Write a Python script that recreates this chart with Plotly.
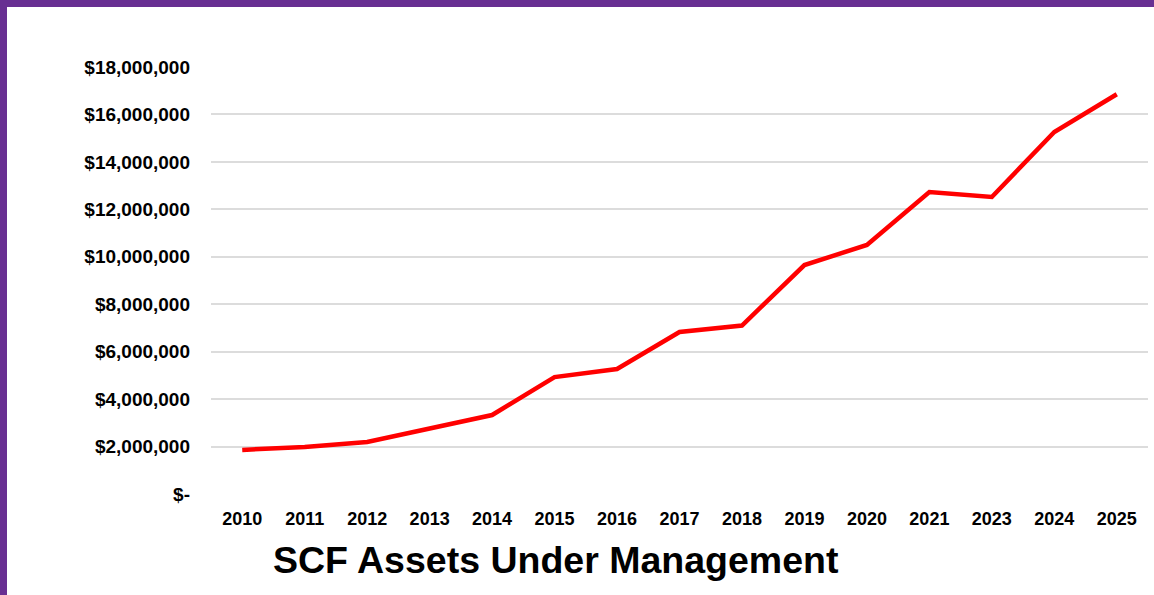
import plotly.graph_objects as go

years = ["2010", "2011", "2012", "2013", "2014", "2015", "2016", "2017",
         "2018", "2019", "2020", "2021", "2023", "2024", "2025"]
assets = [1.86e6, 1.98e6, 2.19e6, 2.78e6, 3.33e6, 4.93e6, 5.27e6, 6.83e6,
          7.10e6, 9.65e6, 10.50e6, 12.73e6, 12.52e6, 15.26e6, 16.85e6]
y_tickvals = [0, 2e6, 4e6, 6e6, 8e6, 10e6, 12e6, 14e6, 16e6, 18e6]
y_ticktext = ["$-", "$2,000,000", "$4,000,000", "$6,000,000", "$8,000,000",
              "$10,000,000", "$12,000,000", "$14,000,000", "$16,000,000", "$18,000,000"]
title_text = "SCF Assets Under Management"

W, H = 1154, 595
L, R, T, B = 211, 6, 67, 101
pw, ph = W - L - R, H - T - B

def px(x):
    return (x - L) / pw

def py(y):
    return (H - B - y) / ph

FONT = "Liberation Sans, Arial, sans-serif"
PURPLE = "#682F92"

fig = go.Figure()
fig.add_trace(go.Scatter(
    x=years, y=assets, mode="lines",
    line=dict(color="#FF0000", width=4.5),
    hoverinfo="skip", showlegend=False,
))

fig.update_layout(
    width=W, height=H,
    margin=dict(l=L, r=R, t=T, b=B),
    paper_bgcolor="white", plot_bgcolor="white",
    xaxis=dict(
        type="category", range=[-0.5, len(years) - 0.5],
        showgrid=False, zeroline=False, showline=False,
        tickfont=dict(family=FONT, size=18, color="#000000", weight="bold"),
        ticks="", ticklabelstandoff=12,
    ),
    yaxis=dict(
        range=[0, 18e6], tickvals=y_tickvals, ticktext=y_ticktext,
        showgrid=True, gridcolor="#DCDCDC", gridwidth=1.5,
        zeroline=False, showline=False, ticks="",
        tickfont=dict(family=FONT, size=19, color="#000000", weight="bold"),
        ticklabelstandoff=20,
    ),
    shapes=[
        dict(type="rect", xref="paper", yref="paper",
             x0=px(0), x1=px(7), y0=py(H), y1=py(0),
             fillcolor=PURPLE, line=dict(width=0), layer="above"),
        dict(type="rect", xref="paper", yref="paper",
             x0=px(0), x1=px(W), y0=py(7), y1=py(0),
             fillcolor=PURPLE, line=dict(width=0), layer="above"),
    ],
    annotations=[
        dict(text=title_text, xref="paper", yref="paper",
             x=px(556), y=py(560), xanchor="center", yanchor="middle",
             showarrow=False,
             font=dict(family=FONT, size=37.5, color="#000000", weight="bold")),
    ],
)

fig.write_html("out.html", config={"displayModeBar": False},
               post_script="document.body.style.margin='0';")
